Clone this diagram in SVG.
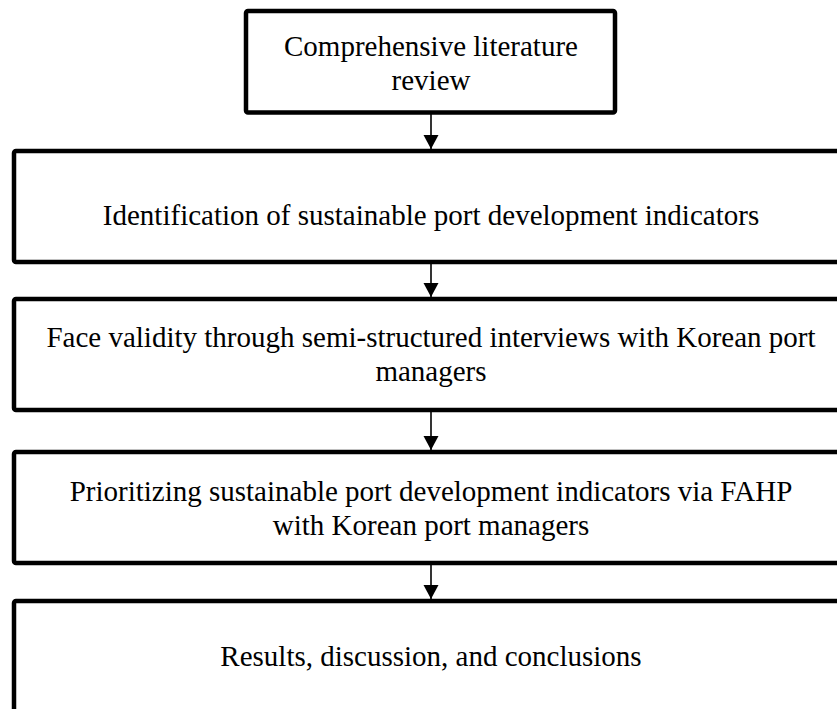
<svg xmlns="http://www.w3.org/2000/svg" width="837" height="709" viewBox="0 0 837 709">
<style>
.box{fill:#fff;stroke:#000;stroke-width:4.5;stroke-linejoin:round}
.t{font-family:"Liberation Serif","Times New Roman",serif;font-size:29px;fill:#000;text-anchor:middle}
.c{stroke:#000;stroke-width:1.6;fill:none}
</style>
<defs>
<marker id="ah" markerUnits="userSpaceOnUse" markerWidth="16" markerHeight="16" viewBox="0 0 16 16" refX="14" refY="8" orient="auto">
<path d="M0,0.5 L14,8 L0,15.5 Z" fill="#000"/>
</marker>
</defs>
<rect width="837" height="709" fill="#fff"/>
<g id="n1">
<rect class="box" x="246" y="11" width="369" height="101.5" rx="2"/>
<text class="t" x="431" y="56">Comprehensive literature</text>
<text class="t" x="431" y="90">review</text>
</g>
<g id="n2">
<rect class="box" x="14" y="151" width="840" height="111" rx="2"/>
<text class="t" x="431" y="225">Identification of sustainable port development indicators</text>
</g>
<g id="n3">
<rect class="box" x="14" y="299" width="840" height="111" rx="2"/>
<text class="t" x="431" y="347">Face validity through semi-structured interviews with Korean port</text>
<text class="t" x="431" y="381">managers</text>
</g>
<g id="n4">
<rect class="box" x="14" y="452" width="840" height="111" rx="2"/>
<text class="t" x="431" y="501">Prioritizing sustainable port development indicators via FAHP</text>
<text class="t" x="431" y="535">with Korean port managers</text>
</g>
<g id="n5">
<rect class="box" x="14" y="601" width="840" height="130" rx="2"/>
<text class="t" x="431" y="666">Results, discussion, and conclusions</text>
</g>
<g id="connectors">
<line class="c" x1="431" y1="114" x2="431" y2="149" marker-end="url(#ah)"/>
<line class="c" x1="431" y1="264" x2="431" y2="297" marker-end="url(#ah)"/>
<line class="c" x1="431" y1="412" x2="431" y2="450" marker-end="url(#ah)"/>
<line class="c" x1="431" y1="565" x2="431" y2="599" marker-end="url(#ah)"/>
</g>
</svg>
